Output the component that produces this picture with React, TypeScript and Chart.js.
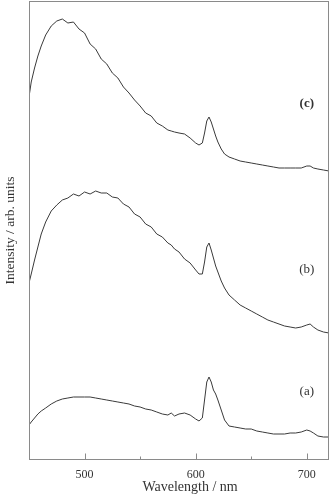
import React, { useEffect, useRef } from "react";
import { Chart, registerables } from "chart.js";

Chart.register(...registerables);

const wavelengths = [450,452,455,458,461,465,470,475,480,485,490,495,500,505,510,515,520,525,530,535,540,545,550,555,560,565,570,575,578,581,585,590,595,600,603,606,608,610,612,614,616,618,620,623,626,630,635,640,645,650,655,660,665,670,675,680,685,690,695,700,703,706,710,715,720];

const seriesC = [363,378,392,404,414,425,434,439,441,437,438,431,427,416,411,401,396,387,382,373,367,360,354,347,344,337,334,330,329,328,327,326,322,317,315,317,327,339,343,338,331,324,318,311,306,303,301,299,298,297,296,295,294,293,292,292,292,292,292,294,294,292,291,290,289];

const seriesB = [177,186,200,213,226,238,249,255,260,262,266,264,268,266,269,267,267,263,262,256,253,246,243,236,233,226,223,217,215,211,208,201,197,190,186,186,198,213,217,210,202,194,188,179,172,165,160,155,152,149,146,143,140,138,136,134,133,132,133,135,136,133,130,128,127];

const seriesA = [35,38,42,46,49,52,56,59,61,62,63,63,63,63,62,61,60,59,58,57,56,54,53,51,50,48,46,45,47,44,46,47,45,41,39,42,60,78,83,78,70,66,60,50,40,34,33,32,31,31,29,28,27,26,26,26,27,27,28,30,29,27,24,23,23];

const xTickValues = [500, 550, 600, 650, 700];
const xTickLabels = ["500", "", "600", "", "700"];
const xTitle = "Wavelength / nm";
const xTitleCenter = 595;

const curveLabels = ["(a)", "(b)", "(c)"];
const curveLabelBold = [false, false, true];
const curveLabelX = [700, 700, 700];
const curveLabelY = [68, 190, 356];

const FONT = "'Liberation Serif', 'Times New Roman', serif";

export default function App() {
  const ref = useRef<HTMLCanvasElement | null>(null);

  useEffect(() => {
    document.body.style.margin = "0";
    const canvas = ref.current;
    if (!canvas) return;

    const frame = {
      id: "frame",
      afterDraw(chart: any) {
        const { ctx, chartArea } = chart;
        const xs = chart.scales.x;
        const ys = chart.scales.y;
        ctx.save();
        ctx.strokeStyle = "#8a8a8a";
        ctx.lineWidth = 1;
        ctx.strokeRect(
          Math.round(chartArea.left) + 0.5,
          Math.round(chartArea.top) + 0.5,
          Math.round(chartArea.right - chartArea.left) - 1,
          Math.round(chartArea.bottom - chartArea.top) - 1
        );
        ctx.beginPath();
        const bottom = Math.round(chartArea.bottom) - 0.5;
        xTickValues.forEach((v) => {
          const px = Math.round(xs.getPixelForValue(v)) + 0.5;
          const len = v % 100 === 0 ? 6 : 3;
          ctx.moveTo(px, bottom);
          ctx.lineTo(px, bottom - len);
        });
        ctx.stroke();
        ctx.fillStyle = "#333";
        ctx.textAlign = "center";
        ctx.textBaseline = "middle";
        curveLabels.forEach((t, i) => {
          ctx.font = `${curveLabelBold[i] ? "bold " : ""}13px ${FONT}`;
          ctx.fillText(t, xs.getPixelForValue(curveLabelX[i]), ys.getPixelForValue(curveLabelY[i]));
        });
        ctx.font = `14px ${FONT}`;
        ctx.fillText(xTitle, xs.getPixelForValue(xTitleCenter), chart.height - 8);
        ctx.restore();
      },
    };

    const mk = (data: number[]) => ({
      data,
      borderColor: "#3a3a3a",
      borderWidth: 1,
      pointRadius: 0,
      fill: false,
      tension: 0,
    });

    const chart = new Chart(canvas, {
      type: "line",
      data: {
        labels: wavelengths,
        datasets: [mk(seriesA), mk(seriesB), mk(seriesC)],
      },
      options: {
        animation: false,
        responsive: false,
        devicePixelRatio: 1,
        layout: { padding: { top: 1, right: 4, left: 0, bottom: 0 } },
        plugins: { legend: { display: false }, tooltip: { enabled: false } },
        scales: {
          x: {
            type: "linear",
            min: 450,
            max: 720,
            grid: { display: false, drawTicks: false },
            border: { display: false },
            afterBuildTicks: (scale: any) => {
              scale.ticks = xTickValues.map((v) => ({ value: v }));
            },
            afterFit: (scale: any) => {
              scale.height = 35;
            },
            ticks: {
              padding: 8,
              color: "#333",
              font: { family: FONT, size: 12 },
              maxRotation: 0,
              autoSkip: false,
              callback: (v: any) => {
                const i = xTickValues.indexOf(Number(v));
                return i >= 0 ? xTickLabels[i] : "";
              },
            },
            title: { display: false },
          },
          y: {
            min: 0,
            max: 459,
            grid: { display: false, drawTicks: false },
            border: { display: false },
            ticks: { display: false },
            afterFit: (scale: any) => {
              scale.width = 29;
            },
            title: {
              display: true,
              text: "Intensity / arb. units",
              color: "#333",
              font: { family: FONT, size: 13.5 },
              padding: { top: 2, bottom: 0 },
            },
          },
        },
      },
      plugins: [frame],
    } as any);

    return () => chart.destroy();
  }, []);

  return (
    <div style={{ width: 333, height: 495 }}>
      <canvas ref={ref} width={333} height={495} style={{ display: "block" }} />
    </div>
  );
}
